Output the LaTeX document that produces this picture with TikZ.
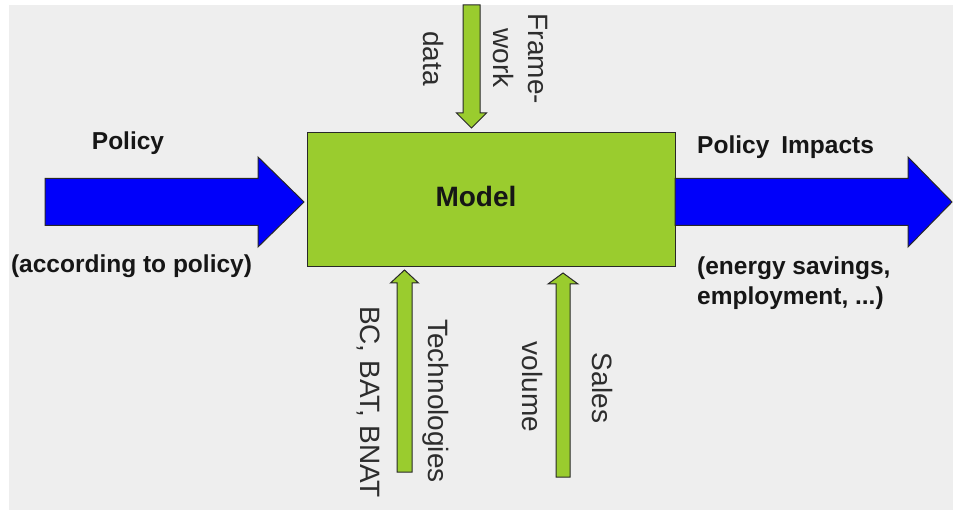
\documentclass[tikz,border=0pt]{standalone}
\usepackage{fontspec}
\setmainfont{Liberation Sans}
\usetikzlibrary{calc}

\definecolor{canvas}{RGB}{238,238,238}
\definecolor{flowblue}{RGB}{0,0,250}
\definecolor{modelgreen}{RGB}{154,204,46}
\definecolor{ink}{RGB}{22,22,22}
\definecolor{edge}{RGB}{40,40,40}

% Block arrow: style, shaft half-width, head half-width, head length, start, tip
\newcommand\flowarrow[6]{%
  \path ($(#6)!#4!(#5)$) coordinate (fa-neck);
  \draw[#1] ($(#5)!#2!90:(#6)$) -- ($(fa-neck)!#2!90:(#6)$)
    -- ($(fa-neck)!#3!90:(#6)$) -- (#6) -- ($(fa-neck)!#3!-90:(#6)$)
    -- ($(fa-neck)!#2!-90:(#6)$) -- ($(#5)!#2!-90:(#6)$) -- cycle;
}

\begin{document}
\begin{tikzpicture}[x=1pt,y=-1pt,
  outline/.style={draw=edge, line width=1pt, line join=miter},
  bluearrow/.style={outline, fill=flowblue},
  greenarrow/.style={outline, fill=modelgreen},
  boldlabel/.style={font=\fontsize{24.5}{29}\selectfont\bfseries, text=ink, inner sep=0pt},
  sidelabel/.style={font=\fontsize{28}{33}\selectfont, text=ink!90, inner sep=0pt, rotate=-90, anchor=base}]

\useasboundingbox (0,0) rectangle (953,510);
\fill[white] (0,0) rectangle (953,510);
\fill[canvas] (9,5) rectangle (953,510);

% central model block
\node[outline, fill=modelgreen, minimum width=368pt, minimum height=134pt, inner sep=0pt] (model) at (491,200) {};
\node[font=\fontsize{28}{33}\selectfont\bfseries, text=ink, inner sep=0pt, anchor=base] (modeltext) at (476,207) {Model};

% arrow end points
\coordinate (policy-start) at (45,202);
\coordinate (policy-tip)   at (304,202);
\coordinate (impact-start) at (675,202);
\coordinate (impact-tip)   at (952,202);
\coordinate (frame-start)  at (471.5,5);
\coordinate (frame-tip)    at (471.5,128);
\coordinate (tech-start)   at (404.5,472);
\coordinate (tech-tip)     at (404.5,270);
\coordinate (sales-start)  at (563,477);
\coordinate (sales-tip)    at (563,273);

\flowarrow{bluearrow}{23.5pt}{45pt}{46pt}{policy-start}{policy-tip}
\flowarrow{bluearrow}{23.5pt}{45pt}{44pt}{impact-start}{impact-tip}
\flowarrow{greenarrow}{8.5pt}{15pt}{15pt}{frame-start}{frame-tip}
\flowarrow{greenarrow}{7.5pt}{14pt}{13pt}{tech-start}{tech-tip}
\flowarrow{greenarrow}{7pt}{15pt}{11pt}{sales-start}{sales-tip}

% horizontal labels
\node[boldlabel, anchor=base] (policy) at (128,150) {Policy};
\node[boldlabel, anchor=base] (policynote) at (131.5,273) {(according to policy)};
\node[boldlabel, anchor=base west] (impacts) at (697,154) {Policy\hspace{12pt}Impacts};
\node[boldlabel, anchor=base west] (impactnote1) at (697,275) {(energy savings,};
\node[boldlabel, anchor=base west] (impactnote2) at (697,305) {employment, ...)};

% vertical labels
\node[sidelabel] (frame1) at (528,59) {Frame-};
\node[sidelabel] (frame2) at (493,58) {work};
\node[sidelabel] (frame3) at (423,58.5) {data};
\node[sidelabel] (tech1) at (428,401) {Technologies};
\node[sidelabel] (tech2) at (360,402) {BC, BAT, BNAT};
\node[sidelabel] (sales1) at (592,388) {Sales};
\node[sidelabel] (sales2) at (522,387) {volume};
\end{tikzpicture}
\end{document}
